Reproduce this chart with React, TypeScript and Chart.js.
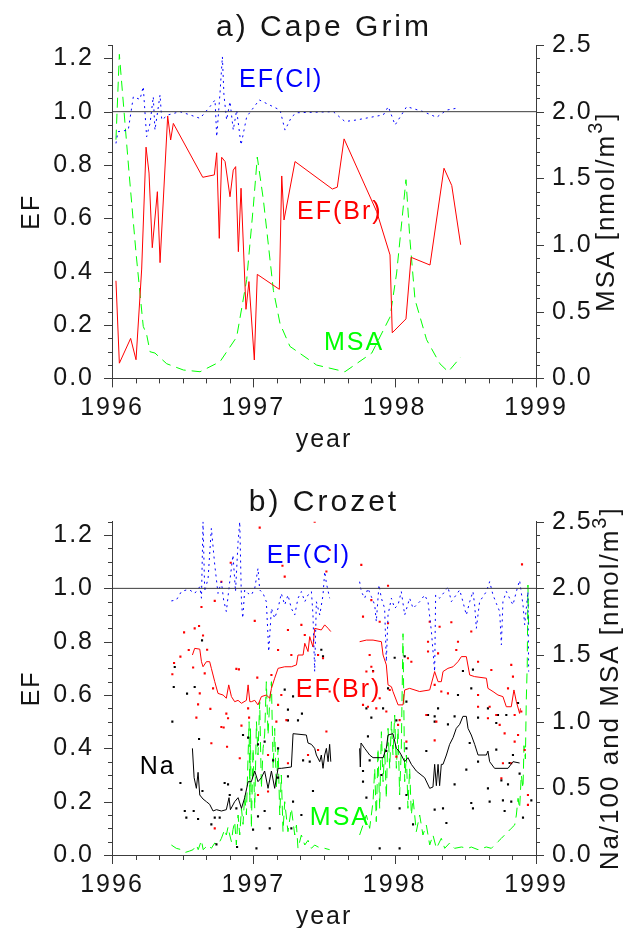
import { useEffect, useRef } from 'react';
import { Chart, registerables } from 'chart.js';
Chart.register(...registerables);

type P = [number, number | null];

// ---------- tick labels ----------
const yearTicks = [1996, 1997, 1998, 1999];
const efTicks = [0, 0.2, 0.4, 0.6, 0.8, 1.0, 1.2];
const rightTicks = [0, 0.5, 1.0, 1.5, 2.0, 2.5];
const refLine: P[] = [[1996, 1.0], [1999, 1.0]];

// ---------- a) Cape Grim ----------
const capeBr: P[] = [[1996.028,0.366],[1996.052,0.057],[1996.132,0.15],[1996.170,0.07],[1996.210,0.41],[1996.241,0.867],[1996.262,0.77],[1996.285,0.49],[1996.321,0.70],[1996.340,0.434],[1996.394,0.984],[1996.415,0.894],[1996.434,0.956],[1996.642,0.754],[1996.724,0.763],[1996.741,0.846],[1996.759,0.525],[1996.776,0.829],[1996.800,0.813],[1996.835,0.681],[1996.858,0.781],[1996.875,0.794],[1996.894,0.475],[1996.913,0.713],[1996.948,0.259],[1996.969,0.363],[1997.007,0.069],[1997.028,0.39],[1997.184,0.334],[1997.201,0.759],[1997.217,0.594],[1997.295,0.813],[1997.559,0.71],[1997.594,0.717],[1997.642,0.898],[1997.873,0.625],[1997.967,0.463],[1997.983,0.171],[1998.080,0.223],[1998.116,0.454],[1998.250,0.425],[1998.349,0.788],[1998.404,0.723],[1998.467,0.501]];

const capeCl: P[] = [[1996.028,0.881],[1996.042,0.925],[1996.115,0.931],[1996.151,1.056],[1996.198,1.046],[1996.221,1.094],[1996.245,0.906],[1996.269,0.956],[1996.292,1.056],[1996.304,0.931],[1996.340,1.063],[1996.352,0.969],[1996.397,0.988],[1996.481,1.0],[1996.552,0.988],[1996.623,0.975],[1996.693,1.019],[1996.729,1.044],[1996.741,0.906],[1996.764,1.069],[1996.781,1.206],[1996.792,1.063],[1996.811,0.969],[1996.835,1.038],[1996.858,0.931],[1996.882,1.006],[1996.913,0.875],[1996.953,0.981],[1997.042,1.044],[1997.189,1.006],[1997.224,0.931],[1997.271,0.981],[1997.307,0.996],[1997.566,1.0],[1997.648,0.963],[1997.731,0.969],[1997.92,0.988],[1997.955,1.019],[1998.003,0.95],[1998.085,1.019],[1998.203,1.0],[1998.297,0.979],[1998.368,1.006],[1998.439,1.013]];

const capeMSA: P[] = [[1996.028,1.79],[1996.052,2.43],[1996.12,1.55],[1996.17,0.94],[1996.221,0.39],[1996.245,0.33],[1996.269,0.20],[1996.304,0.19],[1996.387,0.11],[1996.505,0.063],[1996.623,0.05],[1996.764,0.125],[1996.882,0.31],[1996.953,0.74],[1997.0,1.29],[1997.028,1.66],[1997.071,1.34],[1997.142,0.66],[1997.189,0.41],[1997.259,0.24],[1997.448,0.10],[1997.648,0.05],[1997.838,0.19],[1997.967,0.46],[1998.014,0.79],[1998.08,1.49],[1998.108,1.04],[1998.144,0.59],[1998.226,0.29],[1998.32,0.11],[1998.379,0.05],[1998.467,0.16]];

// ---------- b) Crozet ----------
const crozetCl: P[] = [[1996.42,0.953],[1996.455,0.956],[1996.491,0.988],[1996.526,0.994],[1996.55,0.994],[1996.585,0.981],[1996.621,1.006],[1996.633,0.963],[1996.644,1.25],[1996.656,0.988],[1996.68,1.038],[1996.703,1.225],[1996.727,1.088],[1996.75,0.981],[1996.774,1.025],[1996.79,0.956],[1996.809,0.913],[1996.833,1.025],[1996.856,1.125],[1996.874,0.988],[1996.892,1.175],[1996.904,1.25],[1996.916,0.95],[1996.925,0.888],[1996.939,0.994],[1996.963,0.981],[1996.986,0.975],[1997.01,1.0],[1997.033,1.075],[1997.045,0.994],[1997.069,0.981],[1997.092,0.95],[1997.109,0.763],[1997.128,0.925],[1997.151,0.888],[1997.175,0.925],[1997.198,0.981],[1997.222,0.938],[1997.245,0.975],[1997.269,0.925],[1997.293,0.90],[1997.316,0.963],[1997.34,0.988],[1997.364,0.95],[1997.387,0.975],[1997.411,0.988],[1997.422,0.90],[1997.434,0.688],[1997.446,0.95],[1997.47,0.90],[1997.493,0.975],[1997.505,1.063],[1997.517,1.019],[1997.54,0.963],[1997.65,null],[1997.752,1.025],[1997.764,0.988],[1997.788,0.963],[1997.811,1.0],[1997.835,0.969],[1997.859,0.938],[1997.87,0.875],[1997.889,1.013],[1997.906,0.963],[1997.929,0.925],[1997.941,0.725],[1997.953,0.90],[1997.977,0.963],[1998.0,0.925],[1998.024,0.938],[1998.047,0.988],[1998.071,0.90],[1998.106,0.963],[1998.13,0.925],[1998.177,0.95],[1998.212,0.975],[1998.236,0.95],[1998.26,0.838],[1998.283,0.688],[1998.29,0.975],[1998.318,0.963],[1998.354,0.988],[1998.377,1.006],[1998.401,0.95],[1998.46,0.994],[1998.483,0.95],[1998.507,0.90],[1998.531,0.95],[1998.554,0.988],[1998.566,0.938],[1998.578,0.85],[1998.601,0.95],[1998.649,0.988],[1998.672,1.025],[1998.696,0.975],[1998.719,0.944],[1998.743,0.913],[1998.755,0.788],[1998.766,0.95],[1998.79,0.988],[1998.813,0.963],[1998.837,0.938],[1998.861,0.988],[1998.884,1.03],[1998.908,0.938],[1998.92,0.863],[1998.943,0.988],[1998.948,0.688]];

const crozetBr: P[] = [[1996.569,0.75],[1996.585,0.775],[1996.621,0.772],[1996.633,0.725],[1996.644,0.706],[1996.668,0.725],[1996.691,0.725],[1996.703,0.70],[1996.727,0.65],[1996.75,0.606],[1996.786,0.60],[1996.809,0.588],[1996.826,0.638],[1996.845,0.594],[1996.868,0.575],[1996.892,0.58],[1996.916,0.569],[1996.951,0.58],[1996.963,0.638],[1996.975,0.575],[1996.986,0.575],[1997.01,0.58],[1997.033,0.563],[1997.057,0.594],[1997.092,0.60],[1997.116,0.588],[1997.128,0.625],[1997.151,0.663],[1997.175,0.70],[1997.222,0.706],[1997.269,0.706],[1997.305,0.713],[1997.316,0.75],[1997.352,0.75],[1997.364,0.794],[1997.387,0.763],[1997.399,0.819],[1997.422,0.78],[1997.434,0.85],[1997.481,0.844],[1997.505,0.863],[1997.529,0.85],[1997.548,0.838],[1997.65,null],[1997.752,0.80],[1997.8,0.806],[1997.847,0.806],[1997.906,0.80],[1997.918,0.75],[1997.941,0.713],[1997.953,0.638],[1997.977,0.631],[1997.988,0.613],[1998.024,0.563],[1998.059,0.563],[1998.071,0.619],[1998.106,0.625],[1998.177,0.613],[1998.248,0.619],[1998.283,0.688],[1998.307,0.65],[1998.33,0.65],[1998.342,0.688],[1998.377,0.70],[1998.413,0.706],[1998.448,0.725],[1998.472,0.744],[1998.507,0.744],[1998.531,0.675],[1998.566,0.669],[1998.649,0.663],[1998.66,0.625],[1998.696,0.613],[1998.731,0.60],[1998.766,0.594],[1998.79,0.556],[1998.825,0.556],[1998.844,0.619],[1998.861,0.575],[1998.884,0.531],[1998.89,0.55]];

const crozetBrSamples: P[] = [[1996.51,0.835],[1996.585,0.85],[1996.616,0.859],[1996.644,0.823],[1996.484,0.744],[1996.543,0.769],[1996.574,0.703],[1996.439,0.72],[1996.427,0.678],[1996.673,0.77],[1996.715,0.625],[1996.656,0.681],[1996.621,0.606],[1996.609,0.565],[1996.696,0.548],[1996.597,0.515],[1996.774,0.48],[1996.79,0.478],[1996.821,0.513],[1996.809,0.53],[1996.88,0.698],[1996.898,0.696],[1996.774,1.025],[1996.84,1.096],[1996.727,0.953],[1996.633,0.93],[1996.814,0.406],[1996.703,0.419],[1996.904,0.363],[1996.727,0.10],[1996.97,0.515],[1996.916,0.485],[1997.045,1.228],[1997.434,1.25],[1997.222,1.044],[1997.206,1.085],[1997.54,1.144],[1997.517,1.063],[1997.175,0.769],[1997.245,0.844],[1997.34,0.863],[1997.269,0.75],[1997.364,0.825],[1997.01,0.878],[1997.028,0.665],[1997.128,0.675],[1997.175,0.563],[1997.198,0.60],[1997.234,0.506],[1997.399,0.631],[1997.54,0.613],[1997.458,0.75],[1997.493,0.738],[1996.963,0.55],[1997.104,0.375],[1997.033,0.225],[1997.163,0.50],[1997.245,0.344],[1997.387,0.375],[1997.458,0.394],[1997.517,0.463],[1997.104,0.238],[1997.764,1.088],[1997.953,1.01],[1997.835,0.956],[1997.776,0.894],[1997.894,0.875],[1997.953,0.869],[1997.823,0.75],[1997.835,0.706],[1998.236,0.80],[1998.236,0.763],[1998.248,0.875],[1997.8,0.688],[1997.847,0.688],[1997.965,0.619],[1997.894,0.588],[1997.776,0.563],[1997.811,0.556],[1997.941,0.538],[1998.035,0.506],[1998.224,0.525],[1998.094,0.738],[1998.118,0.725],[1998.012,0.369],[1997.87,0.55],[1998.083,0.425],[1998.024,0.488],[1998.901,1.09],[1998.401,0.873],[1998.318,0.856],[1998.448,0.80],[1998.542,0.838],[1998.436,0.769],[1998.307,0.756],[1998.59,0.725],[1998.825,0.713],[1998.684,0.694],[1998.837,0.669],[1998.283,0.638],[1998.33,0.613],[1998.377,0.606],[1998.59,0.60],[1998.802,0.625],[1998.672,0.556],[1998.849,0.525],[1998.896,0.538],[1998.59,0.556],[1998.66,0.513],[1998.719,0.525],[1998.743,0.488],[1998.778,0.456],[1998.295,0.50],[1998.283,0.43],[1998.873,0.45],[1998.849,0.425],[1998.92,0.394],[1998.766,0.344],[1998.825,0.344],[1998.755,0.288],[1998.943,0.225],[1998.943,0.188]];

// Na/100 [nmol/m3], right axis
const crozetNa: P[] = [[1996.569,0.80],[1996.581,0.58],[1996.597,0.50],[1996.609,0.62],[1996.621,0.45],[1996.644,0.42],[1996.668,0.40],[1996.691,0.38],[1996.715,0.33],[1996.739,0.34],[1996.774,0.33],[1996.809,0.34],[1996.828,0.43],[1996.838,0.34],[1996.868,0.40],[1996.892,0.43],[1996.916,0.35],[1996.939,0.43],[1996.963,0.55],[1996.986,0.55],[1997.01,0.63],[1997.033,0.55],[1997.057,0.58],[1997.08,0.63],[1997.104,0.50],[1997.128,0.63],[1997.151,0.50],[1997.175,0.65],[1997.198,0.65],[1997.269,0.66],[1997.281,0.91],[1997.375,0.90],[1997.387,0.84],[1997.411,0.83],[1997.434,0.80],[1997.446,0.75],[1997.47,0.70],[1997.481,0.75],[1997.493,0.65],[1997.505,0.75],[1997.517,0.80],[1997.529,0.70],[1997.54,0.83],[1997.548,0.70],[1997.65,null],[1997.752,0.80],[1997.757,0.66],[1997.762,0.84],[1997.788,0.80],[1997.823,0.75],[1997.847,0.73],[1997.918,0.73],[1997.941,0.80],[1997.953,0.90],[1997.988,0.91],[1998.012,0.80],[1998.03,0.78],[1998.047,0.75],[1998.071,0.70],[1998.094,0.73],[1998.118,0.68],[1998.153,0.63],[1998.212,0.58],[1998.248,0.50],[1998.271,0.51],[1998.283,0.68],[1998.295,0.52],[1998.307,0.68],[1998.318,0.52],[1998.33,0.68],[1998.342,0.68],[1998.366,0.75],[1998.389,0.83],[1998.413,0.88],[1998.436,0.95],[1998.46,0.98],[1998.483,1.04],[1998.507,1.04],[1998.519,0.95],[1998.542,0.90],[1998.566,0.83],[1998.59,0.75],[1998.649,0.75],[1998.66,0.78],[1998.672,0.70],[1998.707,0.65],[1998.802,0.65],[1998.837,0.70],[1998.884,0.69]];

const crozetNaSamples: P[] = [[1996.444,1.41],[1996.437,1.26],[1996.427,1.00],[1996.531,1.21],[1996.585,1.26],[1996.637,1.61],[1996.616,0.87],[1996.484,0.54],[1996.515,0.33],[1996.526,0.28],[1996.578,0.33],[1996.609,0.27],[1996.64,0.48],[1996.703,0.23],[1996.727,0.28],[1996.762,0.28],[1996.797,0.54],[1996.821,0.53],[1996.833,0.45],[1996.88,0.35],[1996.885,0.06],[1996.916,0.49],[1996.927,0.90],[1996.739,0.08],[1997.222,1.24],[1997.281,1.19],[1997.245,1.09],[1997.316,1.01],[1997.344,1.06],[1997.245,1.01],[1997.352,0.71],[1997.399,0.70],[1997.481,1.54],[1997.493,1.49],[1997.08,0.85],[1996.963,0.88],[1997.033,0.83],[1997.175,0.80],[1997.14,0.71],[1997.175,0.58],[1997.245,0.59],[1997.422,0.48],[1997.281,0.40],[1997.34,0.30],[1997.08,0.33],[1997.033,0.29],[1996.998,0.19],[1997.116,0.20],[1997.269,0.20],[1997.022,0.05],[1998.0,1.48],[1998.071,1.49],[1997.847,1.38],[1997.8,1.10],[1997.918,1.10],[1997.953,1.25],[1998.083,1.15],[1998.236,1.05],[1998.283,1.00],[1998.307,1.10],[1998.012,1.01],[1997.835,1.03],[1997.811,0.89],[1997.823,0.71],[1997.776,0.63],[1997.906,0.60],[1997.941,0.78],[1998.083,0.80],[1998.224,0.78],[1997.776,0.55],[1997.8,0.43],[1998.083,0.45],[1998.035,0.35],[1998.13,0.23],[1997.894,0.05],[1998.035,0.05],[1998.483,1.38],[1998.554,1.39],[1998.542,1.25],[1998.448,1.20],[1998.59,1.03],[1998.66,1.10],[1998.731,1.05],[1998.79,1.05],[1998.873,1.14],[1998.283,1.04],[1998.424,1.04],[1998.377,0.98],[1998.719,0.99],[1998.531,0.84],[1998.719,0.79],[1998.507,0.64],[1998.59,0.70],[1998.837,0.75],[1998.813,0.69],[1998.755,0.56],[1998.884,0.61],[1998.66,0.50],[1998.802,0.53],[1998.424,0.53],[1998.342,0.35],[1998.542,0.39],[1998.672,0.40],[1998.766,0.41],[1998.967,0.41],[1998.825,0.40],[1998.908,0.28],[1998.778,0.33],[1998.554,0.35],[1998.366,0.24],[1998.283,0.34]];

// MSA [nmol/m3], right axis
const crozetMSA: P[] = [[1996.42,0.075],[1996.455,0.05],[1996.491,0.04],[1996.52,0.02],[1996.55,0.03],[1996.574,0.04],[1996.597,0.075],[1996.61,0.04],[1996.633,0.11],[1996.645,0.04],[1996.68,0.075],[1996.703,0.05],[1996.727,0.09],[1996.75,0.075],[1996.774,0.125],[1996.797,0.19],[1996.809,0.15],[1996.821,0.21],[1996.833,0.15],[1996.845,0.10],[1996.856,0.19],[1996.868,0.25],[1996.88,0.075],[1996.892,0.30],[1996.904,0.15],[1996.916,0.35],[1996.927,0.23],[1996.939,0.45],[1996.951,0.30],[1996.963,0.75],[1996.97,1.00],[1996.975,0.40],[1996.98,0.95],[1996.986,0.20],[1996.998,0.80],[1997.01,0.35],[1997.022,1.00],[1997.033,0.75],[1997.045,1.15],[1997.057,0.50],[1997.069,0.80],[1997.08,0.90],[1997.092,1.30],[1997.104,0.90],[1997.116,1.15],[1997.128,1.30],[1997.14,0.65],[1997.151,0.95],[1997.163,0.50],[1997.175,0.80],[1997.187,0.30],[1997.198,0.60],[1997.21,0.175],[1997.222,0.40],[1997.245,0.175],[1997.269,0.35],[1997.293,0.15],[1997.305,0.225],[1997.316,0.05],[1997.34,0.15],[1997.364,0.075],[1997.387,0.11],[1997.411,0.05],[1997.434,0.075],[1997.458,0.06],[1997.505,0.05],[1997.54,0.04],[1997.65,null],[1997.752,0.15],[1997.776,0.225],[1997.8,0.30],[1997.823,0.20],[1997.847,0.40],[1997.859,0.65],[1997.87,0.25],[1997.882,0.80],[1997.894,0.35],[1997.906,0.925],[1997.918,0.55],[1997.929,0.80],[1997.941,0.425],[1997.953,0.95],[1997.965,0.65],[1997.977,1.00],[1997.988,0.75],[1998.0,1.05],[1998.012,0.65],[1998.024,0.95],[1998.035,0.45],[1998.047,0.80],[1998.059,1.66],[1998.071,0.55],[1998.083,0.75],[1998.094,0.35],[1998.106,0.65],[1998.118,0.30],[1998.13,0.425],[1998.153,0.175],[1998.177,0.30],[1998.2,0.15],[1998.224,0.225],[1998.248,0.075],[1998.271,0.15],[1998.295,0.05],[1998.307,0.075],[1998.33,0.125],[1998.354,0.05],[1998.389,0.09],[1998.424,0.05],[1998.472,0.06],[1998.519,0.05],[1998.542,0.06],[1998.59,0.04],[1998.649,0.06],[1998.684,0.05],[1998.707,0.075],[1998.731,0.10],[1998.755,0.125],[1998.778,0.15],[1998.802,0.175],[1998.825,0.20],[1998.849,0.225],[1998.861,0.30],[1998.873,0.425],[1998.884,0.35],[1998.896,0.60],[1998.908,0.50],[1998.915,0.82],[1998.925,0.72],[1998.931,1.15],[1998.938,1.425],[1998.943,2.025],[1998.948,1.70]];

// ---------- styling ----------
const FONT = '"Liberation Sans", Arial, sans-serif';
const AXIS = '#3c3c3c';
const TEXT = '#151515';
const BLUE = '#0000ff';
const RED = '#ff0000';
const GREEN = '#00ff00';
const W = 626;
const H = 464;

type Note = { text: string; x: number; y: number; color: string };

interface Panel {
  title: string;
  rightTitle: string;
  top: number;
  bottom: number;
  titleY: number;
  rightX: number;
  datasets: any[];
  notes: Note[];
}

const xy = (pts: P[]) => pts.map(([x, y]) => ({ x, y }));

const lineDs = (pts: P[], color: string, axis: string, dash: number[] = []) => ({
  type: 'line',
  data: xy(pts),
  yAxisID: axis,
  borderColor: color,
  borderWidth: 1,
  borderDash: dash,
  pointRadius: 0,
  fill: false,
  spanGaps: false,
  tension: 0,
});

const dotDs = (pts: P[], color: string, axis: string) => ({
  type: 'line',
  data: xy(pts),
  yAxisID: axis,
  showLine: false,
  pointStyle: 'rect',
  pointRadius: 1.5,
  pointBorderWidth: 0,
  pointBackgroundColor: color,
  borderColor: color,
});

const CL_DASH = [2, 4];
const MSA_DASH = [10, 6];

const panelA: Panel = {
  title: 'a) Cape Grim',
  rightTitle: 'MSA [nmol/m',
  top: 45,
  bottom: 378.4,
  titleY: 28,
  rightX: 607,
  datasets: [
    lineDs(refLine, AXIS, 'yL'),
    lineDs(capeCl, BLUE, 'yL', CL_DASH),
    lineDs(capeBr, RED, 'yL'),
    lineDs(capeMSA, GREEN, 'yR', MSA_DASH),
  ],
  notes: [
    { text: 'EF(Cl)', x: 1996.899, y: 1.12, color: BLUE },
    { text: 'EF(Br)', x: 1997.309, y: 0.624, color: RED },
    { text: 'MSA', x: 1997.5, y: 0.133, color: GREEN },
  ],
};

const panelB: Panel = {
  title: 'b) Crozet',
  rightTitle: 'Na/100 and MSA [nmol/m',
  top: 57.7,
  bottom: 391,
  titleY: 39,
  rightX: 611,
  datasets: [
    lineDs(refLine, AXIS, 'yL'),
    lineDs(crozetCl, BLUE, 'yL', CL_DASH),
    lineDs(crozetBr, RED, 'yL'),
    lineDs(crozetNa, '#000000', 'yR'),
    dotDs(crozetBrSamples, RED, 'yL'),
    dotDs(crozetNaSamples, '#000000', 'yR'),
    lineDs(crozetMSA, GREEN, 'yR', MSA_DASH),
  ],
  notes: [
    { text: 'EF(Cl)', x: 1997.095, y: 1.121, color: BLUE },
    { text: 'EF(Br)', x: 1997.3, y: 0.619, color: RED },
    { text: 'MSA', x: 1997.4, y: 0.139, color: GREEN },
    { text: 'Na', x: 1996.196, y: 0.33, color: '#000000' },
  ],
};

const X_MINOR = 1 / 6;
const isNear = (v: number, step: number) => Math.abs(v / step - Math.round(v / step)) < 1e-6;

function decor(p: Panel) {
  return {
    id: 'decor',
    beforeDraw(chart: any) {
      chart.ctx.letterSpacing = '2px';
    },
    afterDraw(chart: any) {
      const { ctx, chartArea: a, scales } = chart;
      const sx = scales.x, sl = scales.yL, sr = scales.yR;
      ctx.save();
      ctx.strokeStyle = AXIS;
      ctx.lineWidth = 1;
      ctx.beginPath();
      const nx = Math.round((sx.max - sx.min) / X_MINOR);
      for (let i = 0; i <= nx; i++) {
        const v = sx.min + i * X_MINOR;
        const px = Math.round(sx.getPixelForValue(v)) + 0.5;
        const len = isNear(v, 1) ? 9 : 5;
        ctx.moveTo(px, a.bottom);
        ctx.lineTo(px, a.bottom + len);
      }
      const nl = Math.round(sl.max / 0.05);
      for (let i = 0; i <= nl; i++) {
        const v = i * 0.05;
        const py = Math.round(sl.getPixelForValue(v)) + 0.5;
        const len = isNear(v, 0.2) ? 8 : 4;
        ctx.moveTo(a.left, py);
        ctx.lineTo(a.left - len, py);
      }
      const nr = Math.round(sr.max / 0.1);
      for (let i = 0; i <= nr; i++) {
        const v = i * 0.1;
        const py = Math.round(sr.getPixelForValue(v)) + 0.5;
        const len = isNear(v, 0.5) ? 8 : 4;
        ctx.moveTo(a.right, py);
        ctx.lineTo(a.right + len, py);
      }
      ctx.stroke();

      const cx = (a.left + a.right) / 2;
      const cy = (a.top + a.bottom) / 2;
      ctx.fillStyle = TEXT;
      ctx.textBaseline = 'middle';
      ctx.letterSpacing = '3px';
      ctx.textAlign = 'center';
      ctx.font = `30px ${FONT}`;
      ctx.fillText(p.title, cx, p.titleY);

      ctx.letterSpacing = '2px';
      ctx.font = `25px ${FONT}`;
      ctx.fillText('year', cx, a.bottom + 62);

      ctx.save();
      ctx.translate(32, cy);
      ctx.rotate(-Math.PI / 2);
      ctx.fillText('EF', 0, 0);
      ctx.restore();

      ctx.save();
      ctx.translate(p.rightX, cy);
      ctx.rotate(-Math.PI / 2);
      ctx.font = `26px ${FONT}`;
      const wBase = ctx.measureText(p.rightTitle).width;
      const wClose = ctx.measureText(']').width;
      ctx.font = `20px ${FONT}`;
      const wSup = ctx.measureText('3').width;
      const total = wBase + wSup + wClose;
      let s = -total / 2;
      ctx.textAlign = 'left';
      ctx.font = `26px ${FONT}`;
      ctx.fillText(p.rightTitle, s, 0);
      s += wBase;
      ctx.font = `20px ${FONT}`;
      ctx.fillText('3', s, -11);
      s += wSup;
      ctx.font = `26px ${FONT}`;
      ctx.fillText(']', s, 0);
      ctx.restore();

      ctx.textAlign = 'left';
      ctx.font = `25px ${FONT}`;
      for (const n of p.notes) {
        ctx.fillStyle = n.color;
        ctx.fillText(n.text, sx.getPixelForValue(n.x), sl.getPixelForValue(n.y));
      }
      ctx.restore();
    },
  };
}

function makeConfig(p: Panel): any {
  const tickFont = { family: FONT, size: 25 };
  return {
    type: 'line',
    data: { datasets: p.datasets },
    options: {
      animation: false,
      responsive: false,
      maintainAspectRatio: false,
      devicePixelRatio: 1,
      events: [],
      layout: { padding: { top: p.top, left: 0, right: 0, bottom: 0 } },
      plugins: { legend: { display: false }, tooltip: { enabled: false }, title: { display: false } },
      scales: {
        x: {
          type: 'linear',
          position: 'bottom',
          min: 1996,
          max: 1999,
          afterBuildTicks: (s: any) => { s.ticks = yearTicks.map((v) => ({ value: v })); },
          afterFit: (s: any) => { s.height = H - p.bottom; },
          ticks: { autoSkip: false, maxRotation: 0, padding: 15, color: TEXT, font: tickFont, callback: (v: any) => String(Math.round(v)) },
          grid: { display: false, drawTicks: false },
          border: { display: true, color: AXIS, width: 1 },
        },
        yL: {
          type: 'linear',
          position: 'left',
          min: 0,
          max: 1.25,
          afterBuildTicks: (s: any) => { s.ticks = efTicks.map((v) => ({ value: v })); },
          afterFit: (s: any) => { s.width = 112; },
          ticks: { autoSkip: false, padding: 18, color: TEXT, font: tickFont, callback: (v: any) => Number(v).toFixed(1) },
          grid: { display: false, drawTicks: false },
          border: { display: true, color: AXIS, width: 1 },
        },
        yR: {
          type: 'linear',
          position: 'right',
          min: 0,
          max: 2.5,
          afterBuildTicks: (s: any) => { s.ticks = rightTicks.map((v) => ({ value: v })); },
          afterFit: (s: any) => { s.width = W - 536; },
          ticks: { autoSkip: false, padding: 16, color: TEXT, font: tickFont, callback: (v: any) => Number(v).toFixed(1) },
          grid: { display: false, drawTicks: false },
          border: { display: true, color: AXIS, width: 1 },
        },
      },
    },
    plugins: [decor(p)],
  };
}

function PanelChart({ panel }: { panel: Panel }) {
  const ref = useRef<HTMLCanvasElement | null>(null);
  useEffect(() => {
    if (!ref.current) return;
    const chart = new Chart(ref.current, makeConfig(panel));
    return () => chart.destroy();
  }, [panel]);
  return <canvas ref={ref} width={W} height={H} style={{ display: 'block', width: W, height: H }} />;
}

export default function App() {
  return (
    <div style={{ position: 'absolute', left: 0, top: 0, width: W, height: 2 * H, background: '#fff' }}>
      <PanelChart panel={panelA} />
      <PanelChart panel={panelB} />
    </div>
  );
}
